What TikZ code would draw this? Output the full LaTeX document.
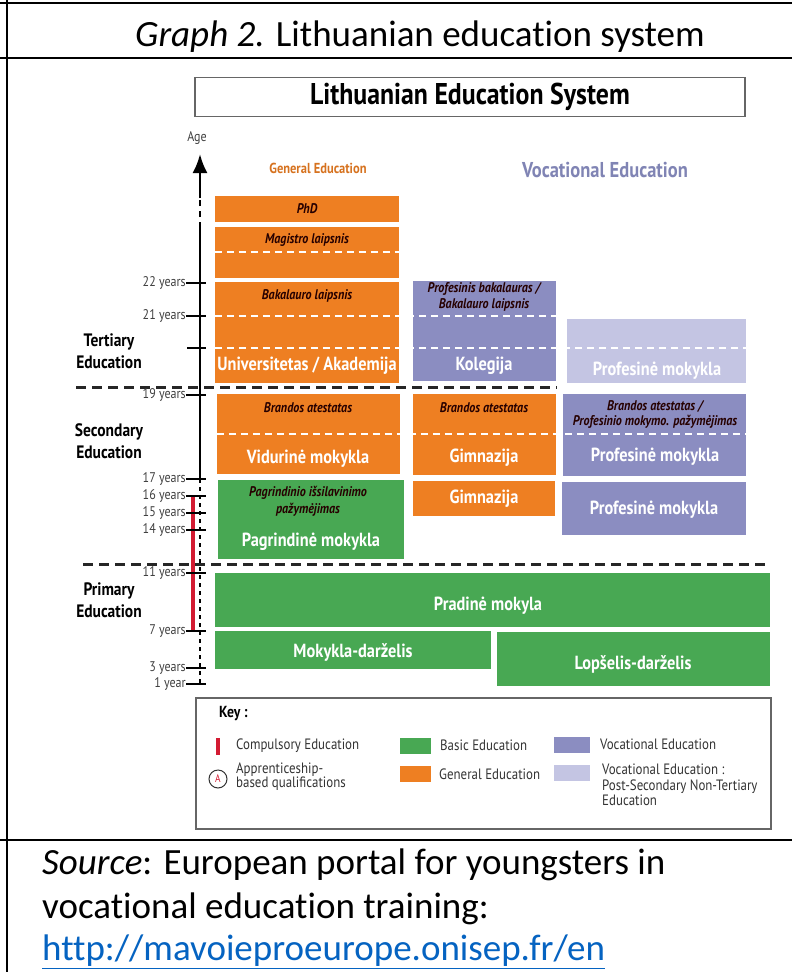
\documentclass[tikz,border=0pt]{standalone}
\usepackage{fontspec}
\setmainfont{Carlito}[Ligatures={NoCommon}]
\newfontfamily\chartfont[FakeStretch=0.86]{PT Sans}
\usepackage{tikz}
\usetikzlibrary{arrows.meta,fit}

\definecolor{genorange}{RGB}{238,127,34}
\definecolor{basgreen}{RGB}{72,168,83}
\definecolor{vocpurple}{RGB}{139,141,193}
\definecolor{postlilac}{RGB}{196,197,227}
\definecolor{compred}{RGB}{211,27,50}
\definecolor{headpurple}{RGB}{128,132,180}
\definecolor{linkblue}{RGB}{5,99,193}

\tikzset{
  blk/.style={inner sep=0pt, draw=none},
  genbox/.style={blk, fill=genorange},
  basbox/.style={blk, fill=basgreen},
  vocbox/.style={blk, fill=vocpurple},
  postbox/.style={blk, fill=postlilac},
  school/.style={text=white, inner sep=0pt, font=\chartfont\bfseries\fontsize{19}{21}\selectfont},
  degree/.style={text=black!85!red, align=center, inner sep=0pt, font=\chartfont\bfseries\itshape\fontsize{14}{16}\selectfont},
  split/.style={white, line width=2pt, dash pattern=on 7pt off 5pt},
  level/.style={black!85, line width=3pt, dash pattern=on 10pt off 6pt},
  axis/.style={black, line width=2.5pt},
  ticklab/.style={anchor=east, inner sep=0pt, text=black!75, font=\chartfont\fontsize{14}{16}\selectfont},
  tickmark/.style={black, line width=2.5pt},
  stage/.style={align=center, inner sep=0pt, font=\chartfont\bfseries\fontsize{18}{22}\selectfont},
  keytext/.style={anchor=west, align=left, inner sep=0pt, text=black!80, font=\chartfont\fontsize{15}{16}\selectfont},
  swatch/.style={minimum height=16, inner sep=0pt},
  frame/.style={black, line width=2.5pt},
  src/.style={anchor=west, inner sep=0pt, font=\fontsize{37}{44}\selectfont}
}

\begin{document}
\begin{tikzpicture}[x=1pt, y=-1pt]
        \useasboundingbox (0,0) rectangle (792,972);
        % frame of the table cell
        \draw[frame] (0,3) -- (792,3);
        \draw[frame] (0,58) -- (792,58);
        \draw[frame] (0,840) -- (792,840);
        \draw[frame] (7,0) -- (7,972);
        \node (title) [inner sep=0pt, font=\fontsize{37}{44}\selectfont] at (420,37) {\textit{Graph 2.} Lithuanian education system};

        \node (systitle) [draw=black!60, line width=1.5pt, minimum width=550, minimum height=39, font=\chartfont\bfseries\fontsize{30}{32}\selectfont] at (470,97) {Lithuanian Education System};
        \node (genhead) [inner sep=0pt, text=genorange!90!black, font=\chartfont\bfseries\fontsize{14.5}{16}\selectfont] at (318,168) {General Education};
        \node (vochead) [inner sep=0pt, text=headpurple, font=\chartfont\bfseries\fontsize{21.5}{24}\selectfont] at (605,170) {Vocational Education};

        % tertiary
        \node (phd) [genbox, fit={(215,196) (399,222)}] {};
        \node (mag) [genbox, fit={(215,227) (399,278)}] {};
        \node (bak) [genbox, fit={(215,282) (399,383)}] {};
        \node (kol) [vocbox, fit={(413,281) (556,381)}] {};
        \node (post) [postbox, fit={(567,319) (746,383)}] {};
        \draw[split] (mag.west |- 0,252) -- (mag.east |- 0,252);
        \draw[split] (bak.west |- 0,316) -- (kol.east |- 0,316);
        \draw[split] (bak.west |- 0,348) -- (post.east |- 0,348);
        \node (phdtxt) [degree] at (307,209) {PhD};
        \node (magtxt) [degree] at (307,240) {Magistro laipsnis};
        \node (baktxt) [degree] at (307,296) {Bakalauro laipsnis};
        \node (univ) [school] at (307,366) {Universitetas / Akademija};
        \node (koltxt) [degree] at (484,297) {Profesinis bakalauras /\\Bakalauro laipsnis};
        \node (kolname) [school] at (484,366) {Kolegija};
        \node (postname) [school] at (657,371) {Profesinė mokykla};

        % secondary
        \node (vid) [genbox, fit={(217,394) (400,474)}] {};
        \node (gim1) [genbox, fit={(413,394) (556,475)}] {};
        \node (prof2) [vocbox, fit={(563,394) (746,476)}] {};
        \draw[split] (vid.west |- 0,434) -- (prof2.east |- 0,434);
        \node (vidtxt) [degree] at (308,408) {Brandos atestatas};
        \node (vidname) [school] at (308,459) {Vidurinė mokykla};
        \node (gim1txt) [degree] at (484,408) {Brandos atestatas};
        \node (gim1name) [school] at (484,458) {Gimnazija};
        \node (prof2txt) [degree, font=\chartfont\bfseries\itshape\fontsize{14}{15}\selectfont] at (655,414) {Brandos atestatas /\\Profesinio mokymo. pažymėjimas};
        \node (prof2name) [school] at (655,457) {Profesinė mokykla};

        \node (pag) [basbox, fit={(218,480) (404,559)}] {};
        \node (gim2) [genbox, fit={(413,481) (555,516)}] {};
        \node (prof1) [vocbox, fit={(562,482) (746,535)}] {};
        \node (pagtxt) [degree, font=\chartfont\bfseries\itshape\fontsize{14}{17}\selectfont] at (308,501) {Pagrindinio išsilavinimo\\pažymėjimas};
        \node (pagname) [school] at (311,542) {Pagrindinė mokykla};
        \node (gim2name) [school] at (484,499) {Gimnazija};
        \node (prof1name) [school] at (654,510) {Profesinė mokykla};

        % primary
        \node (prad) [basbox, fit={(215,573) (770,627)}] {};
        \node (mdar) [basbox, fit={(215,631) (491,669)}] {};
        \node (lop) [basbox, fit={(497,632) (770,686)}] {};
        \node (pradname) [school] at (488,606) {Pradinė mokyla};
        \node (mdarname) [school] at (353,652) {Mokykla-darželis};
        \node (lopname) [school] at (633,664) {Lopšelis-darželis};

        % levels
        \coordinate (lv1a) at (76,387);
        \coordinate (lv1b) at (557,387);
        \coordinate (lv2a) at (83,564);
        \coordinate (lv2b) at (771,564);
        \draw[level] (lv1a) -- (lv1b);
        \draw[level] (lv2a) -- (lv2b);
        \node (tert) [stage] at (109,351) {Tertiary\\Education};
        \node (sec) [stage] at (109,441) {Secondary\\Education};
        \node (prim) [stage] at (109,600) {Primary\\Education};

        % age axis
        \coordinate (a1) at (200,686);
        \coordinate (a17) at (200,479);
        \coordinate (abreak) at (200,228);
        \coordinate (agap) at (200,198);
        \coordinate (atip) at (200,154);
        \draw[axis] (a17) -- (abreak);
        \draw[axis, dash pattern=on 6pt off 5pt] (abreak) -- (agap);
        \draw[axis, -{Latex[length=19pt,width=15pt]}] (agap) -- (atip);
        \draw[axis, dash pattern=on 4pt off 4pt] (a17) -- (a1);
        \node (age) [inner sep=0pt, text=black!75, font=\chartfont\fontsize{14}{16}\selectfont] at (197,138) {Age};
        \coordinate (cmp16) at (193,496);
        \coordinate (cmp7) at (193,631);
        \draw[compred, line width=3.5pt] (cmp16) -- (cmp7);

        \node (t22) [ticklab] at (186,283) {22 years};
        \node (t21) [ticklab] at (186,316) {21 years};
        \coordinate (t20) at (187,348);
        \node (t19) [ticklab] at (186,395) {19 years};
        \node (t17) [ticklab] at (186,479) {17 years};
        \node (t16) [ticklab] at (186,496) {16 years};
        \node (t15) [ticklab] at (186,513) {15 years};
        \node (t14) [ticklab] at (186,530) {14 years};
        \node (t11) [ticklab] at (186,573) {11 years};
        \node (t7) [ticklab] at (186,631) {7 years};
        \node (t3) [ticklab] at (186,668) {3 years};
        \node (t1) [ticklab] at (186,684) {1 year};
        \draw[tickmark] (t22.east) -- ++(20,0);
        \draw[tickmark] (t21.east) -- ++(20,0);
        \draw[tickmark] (t20) -- ++(19,0);
        \draw[tickmark] (t19.east) -- ++(20,0);
        \draw[tickmark] (t17.east) -- ++(20,0);
        \draw[tickmark] (t16.east) -- ++(20,0);
        \draw[tickmark] (t15.east) -- ++(20,0);
        \draw[tickmark] (t14.east) -- ++(20,0);
        \draw[tickmark] (t11.east) -- ++(20,0);
        \draw[tickmark] (t7.east) -- ++(20,0);
        \draw[tickmark] (t3.east) -- ++(20,0);
        \draw[tickmark] (t1.east) -- ++(20,0);

        % key
        \node (key) [draw=black!60, line width=2pt, fit={(196,698) (771,829)}, inner sep=0pt] {};
        \node (keyhead) [keytext, text=black, font=\chartfont\bfseries\fontsize{16}{18}\selectfont] at (219,714) {Key :};
        \coordinate (kred1) at (218,738);
        \coordinate (kred2) at (218,755);
        \draw[compred, line width=4pt] (kred1) -- (kred2);
        \node (kcomp) [keytext] at (236,746) {Compulsory Education};
        \node (kcirc) [circle, draw=black!80, line width=1pt, minimum size=18, inner sep=0pt, text=compred, font=\chartfont\fontsize{11}{12}\selectfont] at (218,779) {A};
        \node (kappr) [keytext, font=\chartfont\fontsize{15}{14}\selectfont] at (236,777) {Apprenticeship-\\based qualifications};
        \node (kbas) [swatch, fill=basgreen, minimum width=31] at (415,746) {};
        \node (kbastxt) [keytext] at (440,745) {Basic Education};
        \node (kgen) [swatch, fill=genorange, minimum width=31] at (415,774) {};
        \node (kgentxt) [keytext] at (439,774) {General Education};
        \node (kvoc) [swatch, fill=vocpurple, minimum width=36] at (572,745) {};
        \node (kvoctxt) [keytext] at (600,744) {Vocational Education};
        \node (kpost) [swatch, fill=postlilac, minimum width=36] at (572,773) {};
        \node (kposttxt) [keytext, anchor=north west, font=\chartfont\fontsize{15}{15.5}\selectfont] at (602,764) {Vocational Education :\\Post-Secondary Non-Tertiary\\Education};

        % source
        \node (src1) [src] at (42,865) {\textit{Source}: European portal for youngsters in};
        \node (src2) [src] at (42,909) {vocational education training:};
        \node (src3) [src, text=linkblue] at (42,952) {\underline{http://mavoieproeurope.onisep.fr/en}};
\end{tikzpicture}
\end{document}
